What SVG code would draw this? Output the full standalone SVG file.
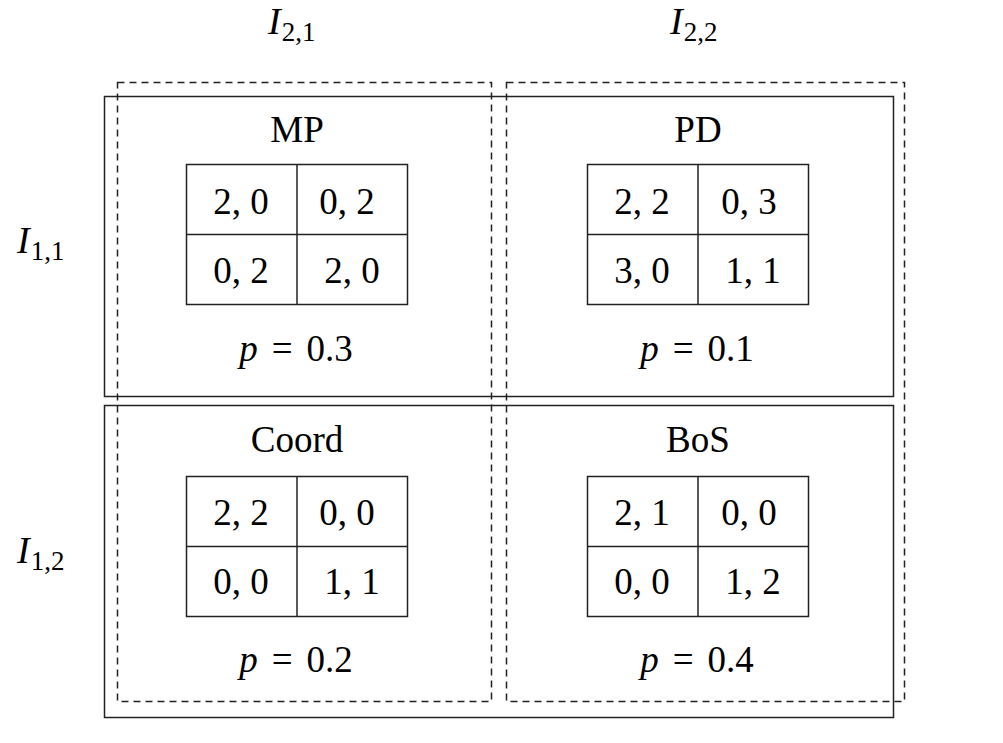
<svg xmlns="http://www.w3.org/2000/svg" width="1003" height="743" viewBox="0 0 1003 743">
<style>
.solid{fill:none;stroke:#222;stroke-width:1.5}
.dash{fill:none;stroke:#222;stroke-width:1.5;stroke-dasharray:7 5}
.grid{fill:none;stroke:#222;stroke-width:1.5}
text{font-family:"Liberation Serif","DejaVu Serif",serif;fill:#000;text-anchor:middle}
.t{font-size:37px}
.n{font-size:37px}
.lab{font-size:38px;text-anchor:start}
.it{font-style:italic}
.sub{font-size:27px}
</style>
<rect width="1003" height="743" fill="#fff"/>
<g id="rows">
<rect class="solid" x="104.5" y="96.5" width="789" height="300"/>
<rect class="solid" x="104.5" y="405.5" width="789" height="312"/>
</g>
<g id="cols">
<rect class="dash" x="117.5" y="82.5" width="374" height="619"/>
<rect class="dash" x="506.5" y="82.5" width="398" height="619"/>
</g>
<g id="labels">
<text class="lab" x="268" y="34"><tspan class="it">I</tspan><tspan class="sub" dy="7" dx="1">2,1</tspan></text>
<text class="lab" x="670" y="34"><tspan class="it">I</tspan><tspan class="sub" dy="7" dx="1">2,2</tspan></text>
<text class="lab" x="17" y="253"><tspan class="it">I</tspan><tspan class="sub" dy="7" dx="1">1,1</tspan></text>
<text class="lab" x="17" y="563"><tspan class="it">I</tspan><tspan class="sub" dy="7" dx="1">1,2</tspan></text>
</g>
<g id="MP">
<text class="t" x="297" y="142">MP</text>
<rect class="grid" x="186.5" y="164.5" width="221" height="140"/>
<line class="grid" x1="186.5" y1="234.5" x2="407.5" y2="234.5"/>
<line class="grid" x1="297" y1="164.5" x2="297" y2="304.5"/>
<text class="n" x="241" y="214">2, 0</text>
<text class="n" x="347" y="214">0, 2</text>
<text class="n" x="241" y="283">0, 2</text>
<text class="n" x="352" y="283">2, 0</text>
<text class="n" x="296" y="361"><tspan class="it">p</tspan><tspan dx="14">=</tspan><tspan dx="14">0.3</tspan></text>
</g>
<g id="PD">
<text class="t" x="698" y="142">PD</text>
<rect class="grid" x="587.5" y="164.5" width="221" height="140"/>
<line class="grid" x1="587.5" y1="234.5" x2="808.5" y2="234.5"/>
<line class="grid" x1="698" y1="164.5" x2="698" y2="304.5"/>
<text class="n" x="642" y="214">2, 2</text>
<text class="n" x="749" y="214">0, 3</text>
<text class="n" x="642" y="283">3, 0</text>
<text class="n" x="753" y="283">1, 1</text>
<text class="n" x="697" y="361"><tspan class="it">p</tspan><tspan dx="14">=</tspan><tspan dx="14">0.1</tspan></text>
</g>
<g id="Coord">
<text class="t" x="297" y="452">Coord</text>
<rect class="grid" x="186.5" y="476.5" width="221" height="140"/>
<line class="grid" x1="186.5" y1="546.5" x2="407.5" y2="546.5"/>
<line class="grid" x1="297" y1="476.5" x2="297" y2="616.5"/>
<text class="n" x="241" y="525">2, 2</text>
<text class="n" x="347" y="525">0, 0</text>
<text class="n" x="241" y="594">0, 0</text>
<text class="n" x="352" y="594">1, 1</text>
<text class="n" x="296" y="672"><tspan class="it">p</tspan><tspan dx="14">=</tspan><tspan dx="14">0.2</tspan></text>
</g>
<g id="BoS">
<text class="t" x="698" y="452">BoS</text>
<rect class="grid" x="587.5" y="476.5" width="221" height="140"/>
<line class="grid" x1="587.5" y1="546.5" x2="808.5" y2="546.5"/>
<line class="grid" x1="698" y1="476.5" x2="698" y2="616.5"/>
<text class="n" x="642" y="525">2, 1</text>
<text class="n" x="749" y="525">0, 0</text>
<text class="n" x="642" y="594">0, 0</text>
<text class="n" x="753" y="594">1, 2</text>
<text class="n" x="697" y="672"><tspan class="it">p</tspan><tspan dx="14">=</tspan><tspan dx="14">0.4</tspan></text>
</g>
</svg>
